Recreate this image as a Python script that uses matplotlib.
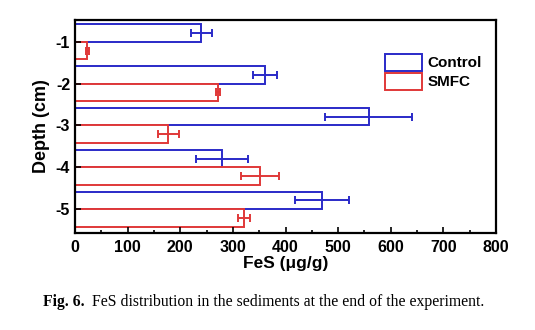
import numpy as np
import matplotlib
matplotlib.use("Agg")
from matplotlib import pyplot as plt
from matplotlib.ticker import MultipleLocator

plt.rcParams['font.family'] = ['Liberation Sans', 'DejaVu Sans']
plt.rcParams['axes.unicode_minus'] = False

depths = [-1, -2, -3, -4, -5]
depth_labels = ['-1', '-2', '-3', '-4', '-5']
control = [240, 361, 558, 279, 470]
control_err = [20, 23, 82, 50, 51]
smfc = [23, 271, 177, 352, 321]
smfc_err = [3, 4, 20, 36, 12]

blue = '#2a2ac8'
red = '#e03838'

fig = plt.figure(figsize=(5.35, 3.3), dpi=100)
ax = fig.add_axes([75 / 535, 1 - 233 / 330, (496 - 75) / 535, (233 - 20) / 330])

y = np.array(depths, dtype=float)
h = 0.42
ax.barh(y + 0.21, control, height=h, facecolor='white', edgecolor=blue,
        linewidth=1.4, xerr=control_err,
        error_kw=dict(ecolor=blue, elinewidth=1.4, capsize=3, capthick=1.4),
        label='Control')
ax.barh(y - 0.21, smfc, height=h, facecolor='white', edgecolor=red,
        linewidth=1.4, xerr=smfc_err,
        error_kw=dict(ecolor=red, elinewidth=1.4, capsize=3, capthick=1.4),
        label='SMFC')

ax.set_xlim(0, 800)
ax.set_ylim(-5.57, -0.48)
ax.xaxis.set_major_locator(MultipleLocator(100))
ax.xaxis.set_minor_locator(MultipleLocator(50))
ax.set_yticks(depths)
ax.set_yticklabels(depth_labels)
ax.tick_params(axis='both', which='major', direction='in', length=4, width=1.2,
               labelsize=11.5, top=False, right=False)
ax.tick_params(axis='x', which='major', pad=5)
ax.tick_params(axis='x', which='minor', direction='in', length=2.5, width=1.2,
               top=False)
for lab in ax.get_xticklabels() + ax.get_yticklabels():
    lab.set_fontweight('bold')
for s in ax.spines.values():
    s.set_linewidth(1.6)

ax.set_xlabel('FeS (μg/g)', fontsize=12.5, fontweight='bold', labelpad=1)
ax.set_ylabel('Depth (cm)', fontsize=13, fontweight='bold', labelpad=4)

leg = ax.legend(loc='upper right', bbox_to_anchor=(1.0, 0.905), frameon=False,
                handlelength=2.4, handleheight=1.3,
                handletextpad=0.4, labelspacing=0.15,
                prop={'weight': 'bold', 'size': 11})

fig.text(43 / 535, 1 - 302 / 330, 'Fig. 6.', family='Liberation Serif',
         fontweight='bold', fontsize=11.3, va='center')
fig.text(92 / 535, 1 - 302 / 330,
         'FeS distribution in the sediments at the end of the experiment.',
         family='Liberation Serif', fontsize=11.3, va='center')

fig.savefig('out.png', dpi=100)
